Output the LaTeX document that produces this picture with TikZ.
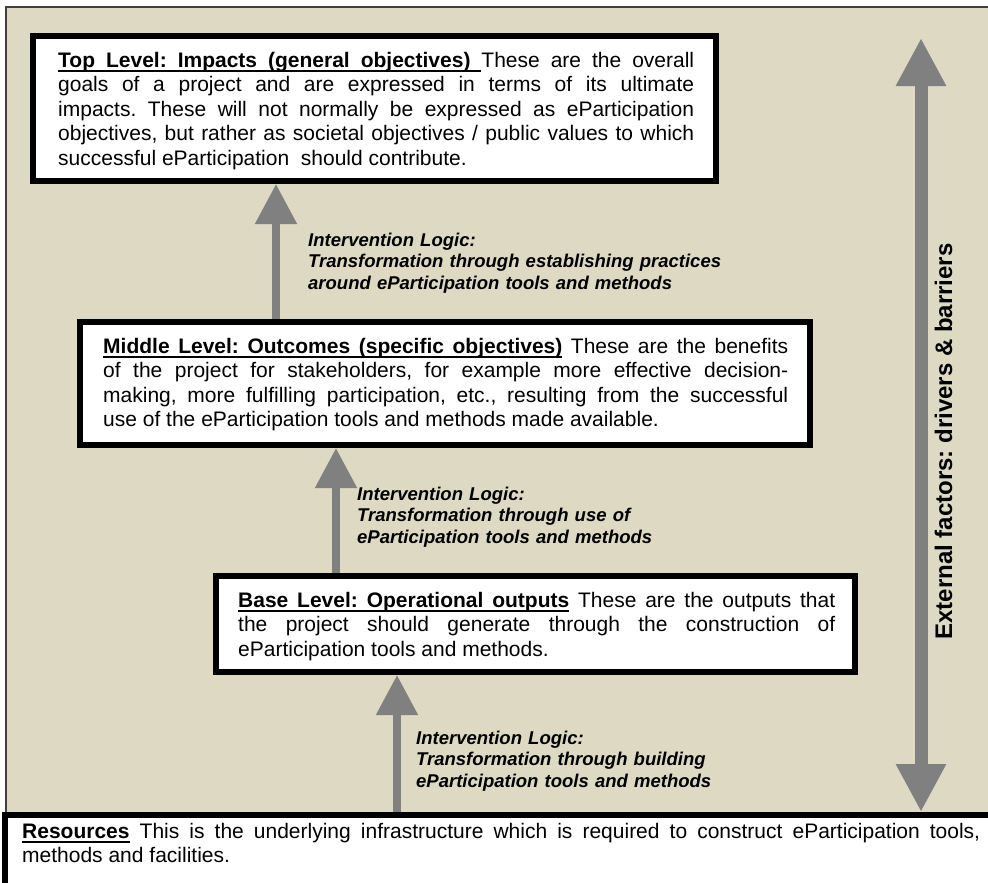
\documentclass[tikz,border=0pt]{standalone}
\usepackage{fontspec}
\setmainfont{Liberation Sans}
\usetikzlibrary{arrows.meta}
\definecolor{tanbg}{HTML}{DDD9C3}
\definecolor{arrgray}{HTML}{808080}
\definecolor{framegray}{HTML}{404040}
\newsavebox\myulbox
\newcommand\myul[1]{\sbox{\myulbox}{#1}\rlap{\rule[-4.5pt]{\wd\myulbox}{1.8pt}}\usebox{\myulbox}}
\newcommand\ulsp{\leaders\hrule height -2.7pt depth 4.5pt\hskip\fontdimen2\font plus\fontdimen3\font minus\fontdimen4\font\relax}
\tolerance=10000
\hyphenpenalty=10000
\frenchspacing
\begin{document}
\begin{tikzpicture}[x=1pt,y=-1pt,
  lvlbox/.style={draw=black, fill=white, line width=6pt, inner sep=0pt, outer sep=3pt, anchor=north west},
  bodytxt/.style={anchor=base west, inner sep=0pt, align=justify, font=\fontsize{21pt}{24.5pt}\selectfont\frenchspacing},
  ilogic/.style={anchor=base west, inner sep=0pt, align=left, text width=440pt, font=\fontsize{18.5pt}{21.5pt}\selectfont\bfseries\itshape},
  uparr/.style={draw=arrgray, line width=8pt, -{Triangle[width=40pt,length=40pt]}},
  dblarr/.style={draw=arrgray, line width=13pt, {Triangle[width=47pt,length=48pt]}-{Triangle[width=47pt,length=48pt]}}
]
\useasboundingbox (0,0) rectangle (988,883);
\clip (0,0) rectangle (988,883);
% background frame
\draw[fill=tanbg, draw=framegray, line width=1.5pt] (6,7) rectangle (1010,900);

% level boxes
\node[lvlbox, minimum width=683pt, minimum height=145pt] (top) at (30,33) {};
\node[lvlbox, minimum width=730pt, minimum height=123pt] (mid) at (77,319) {};
\node[lvlbox, minimum width=639pt, minimum height=96pt] (base) at (213,573) {};
\node[lvlbox, minimum width=1000pt, minimum height=100pt] (res) at (2,812) {};

% texts in boxes
\node[bodytxt, text width=636pt] (toptxt) at (58,67) {\textbf{\myul{Top}\ulsp\myul{Level:}\ulsp\myul{Impacts}\ulsp\myul{(general}\ulsp\myul{objectives)}}\ulsp These are the overall \linebreak
goals of a project and are expressed in terms of its ultimate \linebreak
impacts. These will not normally be expressed as eParticipation \linebreak
objectives, but rather as societal objectives / public values to which \linebreak
successful eParticipation\ \ should contribute.};

\node[bodytxt, text width=685pt] (midtxt) at (103,353) {\textbf{\myul{Middle}\ulsp\myul{Level:}\ulsp\myul{Outcomes}\ulsp\myul{(specific}\ulsp\myul{objectives)}} These are the benefits \linebreak
of the project for stakeholders, for example more effective decision-\linebreak
making, more fulfilling participation, etc., resulting from the successful \linebreak
use of the eParticipation tools and methods made available.};

\node[bodytxt, text width=597pt] (basetxt) at (238,607) {\textbf{\myul{Base}\ulsp\myul{Level:}\ulsp\myul{Operational}\ulsp\myul{outputs}} These are the outputs that \linebreak
the project should generate through the construction of \linebreak
eParticipation tools and methods.};

\node[bodytxt, text width=958pt] (restxt) at (22,838) {\textbf{\myul{Resources}} This is the underlying infrastructure which is required to construct eParticipation tools, \linebreak
methods and facilities.};

% intervention logic arrows
\coordinate (a1) at (276,0);
\coordinate (a2) at (336,0);
\coordinate (a3) at (397,0);
\draw[uparr] (a1 |- mid.north) -- (a1 |- top.south);
\draw[uparr] (a2 |- base.north) -- (a2 |- mid.south);
\draw[uparr] (a3 |- res.north) -- (a3 |- base.south);

\node[ilogic] (il1) at (308,246) {Intervention Logic:\\Transformation through establishing practices\\around eParticipation tools and methods};
\node[ilogic] (il2) at (357,500) {Intervention Logic:\\Transformation through use of\\eParticipation tools and methods};
\node[ilogic] (il3) at (416,744) {Intervention Logic:\\Transformation through building\\eParticipation tools and methods};

% external factors
\coordinate (extop) at (921,38);
\draw[dblarr] (extop) -- (extop |- res.north);
\node[rotate=90, anchor=base, inner sep=0pt, font=\fontsize{24pt}{28pt}\selectfont\bfseries] (ext) at (952,441.5) {External factors: drivers \& barriers};
\end{tikzpicture}
\end{document}
